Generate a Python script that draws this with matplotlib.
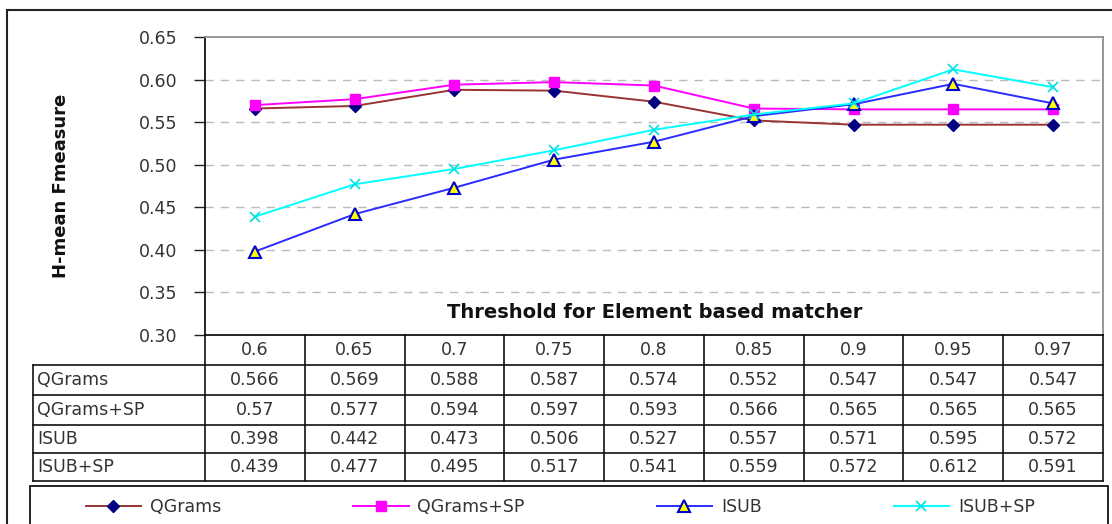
import numpy as np
import matplotlib
matplotlib.use("Agg")
import matplotlib.pyplot as plt
from matplotlib.lines import Line2D
from matplotlib.patches import Rectangle

# data
thresholds = ["0.6", "0.65", "0.7", "0.75", "0.8", "0.85", "0.9", "0.95", "0.97"]
series_names = ["QGrams", "QGrams+SP", "ISUB", "ISUB+SP"]
qgrams = [0.566, 0.569, 0.588, 0.587, 0.574, 0.552, 0.547, 0.547, 0.547]
qgrams_sp = [0.57, 0.577, 0.594, 0.597, 0.593, 0.566, 0.565, 0.565, 0.565]
isub = [0.398, 0.442, 0.473, 0.506, 0.527, 0.557, 0.571, 0.595, 0.572]
isub_sp = [0.439, 0.477, 0.495, 0.517, 0.541, 0.559, 0.572, 0.612, 0.591]
yticks = [0.30, 0.35, 0.40, 0.45, 0.50, 0.55, 0.60, 0.65]

plt.rcParams['font.family'] = ['DejaVu Sans']
W, H = 1112, 524
fig = plt.figure(figsize=(W / 100, H / 100), dpi=100)


def fx(x):
    return x / W


def fy(y):
    return 1 - y / H


TXT = '#333333'
FS = 12.5

# outer chart frame
fig.add_artist(Rectangle((fx(7), fy(560)), fx(1200), 550 / H, transform=fig.transFigure,
                         fill=False, edgecolor='#222222', lw=1.5))

# plot area
L, R, T, B = 205, 1103, 37, 335
ax = fig.add_axes([fx(L), fy(B), fx(R - L), (B - T) / H])
x = np.arange(len(thresholds))
styles = [
    (qgrams, dict(color='#993333', marker='D', markersize=6, markerfacecolor='#000080', markeredgecolor='#000080')),
    (qgrams_sp, dict(color='#FF00FF', marker='s', markersize=7, markerfacecolor='#FF00FF', markeredgecolor='#FF00FF')),
    (isub, dict(color='#2B2BFF', marker='^', markersize=8, markerfacecolor='#FFFF00', markeredgecolor='#0000CC', markeredgewidth=1.5)),
    (isub_sp, dict(color='#00FFFF', marker='x', markersize=7, markeredgecolor='#00E0E0', markeredgewidth=1.2)),
]
handles = []
for name, (vals, st) in zip(series_names, styles):
    ln, = ax.plot(x, vals, lw=1.4, label=name, **st)
    handles.append(ln)

ax.set_xlim(-0.5, len(thresholds) - 0.5)
ax.set_ylim(0.30, 0.65)
ax.set_xticks([])
ax.set_yticks(yticks)
ax.set_yticklabels([f"{v:.2f}" for v in yticks], color=TXT, fontsize=FS)
ax.tick_params(axis='y', direction='out', length=8, width=1, pad=12, color='#222222')
for v in yticks[1:-1]:
    ax.axhline(v, color='#BBBBBB', lw=1, dashes=(6, 5), zorder=0)
ax.spines['left'].set_color('#111111')
ax.spines['bottom'].set_color('#111111')
ax.spines['top'].set_color('#909090')
ax.spines['right'].set_color('#909090')
for s in ax.spines.values():
    s.set_linewidth(1.3)

ax.set_ylabel("H-mean Fmeasure", fontsize=13, fontweight='bold', color='#111111', labelpad=0)
ax.yaxis.set_label_coords((70 - L) / (R - L), 0.5)

fig.text(fx(655), fy(313), "Threshold for Element based matcher", ha='center', va='center',
         fontsize=14, fontweight='bold', color='#111111')

# data table under the plot
rows_y = [335, 365, 395, 425, 453, 481]
col_w = (R - L) / len(thresholds)
lab_left = 33


def hline(x0, x1, y):
    fig.add_artist(Line2D([fx(x0), fx(x1)], [fy(y), fy(y)], transform=fig.transFigure, color='#111111', lw=1.2))


def vline(xx, y0, y1):
    fig.add_artist(Line2D([fx(xx), fx(xx)], [fy(y0), fy(y1)], transform=fig.transFigure, color='#111111', lw=1.2))


for y in rows_y[1:]:
    hline(lab_left, R, y)
vline(lab_left, rows_y[1], rows_y[-1])
for k in range(len(thresholds) + 1):
    vline(L + k * col_w, rows_y[0], rows_y[-1])

for k, t in enumerate(thresholds):
    fig.text(fx(L + (k + 0.5) * col_w), fy((rows_y[0] + rows_y[1]) / 2), t,
             ha='center', va='center', fontsize=FS, color=TXT)

for r, (name, (vals, _)) in enumerate(zip(series_names, styles)):
    yc = (rows_y[r + 1] + rows_y[r + 2]) / 2
    fig.text(fx(lab_left + 4), fy(yc), name, ha='left', va='center', fontsize=FS, color=TXT)
    for k, v in enumerate(vals):
        fig.text(fx(L + (k + 0.5) * col_w), fy(yc), f"{v:g}",
                 ha='center', va='center', fontsize=FS, color=TXT)

# legend box
fig.add_artist(Rectangle((fx(30), fy(560)), fx(1108 - 30), (560 - 486) / H, transform=fig.transFigure,
                         fill=False, edgecolor='#111111', lw=1.3))
fig.legend(handles=handles, labels=series_names, loc='center left', ncol=4,
           bbox_to_anchor=(fx(70), fy(507)), frameon=False, fontsize=FS,
           handlelength=3.2, handletextpad=0.5, columnspacing=7.6, labelcolor=TXT)

fig.savefig("out.png", dpi=100)
